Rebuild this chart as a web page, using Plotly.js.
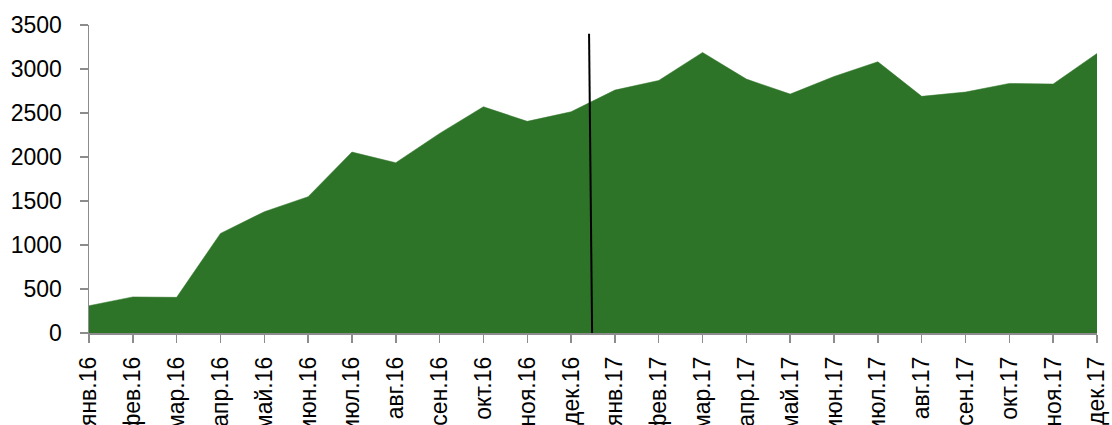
<!DOCTYPE html>
<html>
<head>
<meta charset="utf-8">
<script src="https://cdn.plot.ly/plotly-3.0.1.min.js"></script>
<style>html,body{margin:0;padding:0;background:#fff;overflow:hidden}#chart{width:1112px;height:425px}</style>
</head>
<body>
<div id="chart"></div>
<script>
const months = ["янв.16","фев.16","мар.16","апр.16","май.16","июн.16","июл.16","авг.16","сен.16","окт.16","ноя.16","дек.16",
                "янв.17","фев.17","мар.17","апр.17","май.17","июн.17","июл.17","авг.17","сен.17","окт.17","ноя.17","дек.17"];
const values = [310, 410, 405, 1132, 1378, 1549, 2056, 1935, 2268, 2571, 2405, 2514,
                2760, 2870, 3188, 2885, 2715, 2915, 3082, 2689, 2738, 2836, 2829, 3177];
const yTicks = [0, 500, 1000, 1500, 2000, 2500, 3000, 3500];
// divider line position (category index units) and extent (value units)
const divider = {x0: 11.41, x1: 11.48, y0: 3400, y1: -25};

const trace = {
  x: months, y: values, type: 'scatter', mode: 'lines', fill: 'tozeroy',
  fillcolor: '#2E7428', line: {color: '#2E7428', width: 0.5}, hoverinfo: 'skip'
};
const axisFont = {family: 'Liberation Sans, Arial, sans-serif', size: 23, color: '#000'};
const layout = {
  width: 1112, height: 425,
  margin: {l: 89, r: 15, t: 25, b: 92, pad: 0},
  paper_bgcolor: '#fff', plot_bgcolor: '#fff',
  showlegend: false,
  xaxis: {
    type: 'category', range: [0, 23], showgrid: false, zeroline: false,
    showline: true, linecolor: '#8c8c8c', linewidth: 1.5,
    ticks: 'outside', ticklen: 8, tickcolor: '#8c8c8c', tickwidth: 1.5,
    tickangle: -90, tickfont: axisFont, automargin: false, ticklabelstandoff: 5
  },
  yaxis: {
    range: [0, 3500], tickvals: yTicks, ticktext: yTicks.map(String),
    showgrid: false, zeroline: false,
    showline: true, linecolor: '#8c8c8c', linewidth: 1.5,
    ticks: 'outside', ticklen: 8, tickcolor: '#8c8c8c', tickwidth: 1.5,
    tickfont: axisFont, automargin: false, ticklabelstandoff: 13
  },
  shapes: [{
    type: 'line', xref: 'x', yref: 'y',
    x0: divider.x0, x1: divider.x1, y0: divider.y0, y1: divider.y1,
    line: {color: '#000', width: 2}
  }]
};
Plotly.newPlot('chart', [trace], layout, {staticPlot: true, displayModeBar: false});
</script>
</body>
</html>
